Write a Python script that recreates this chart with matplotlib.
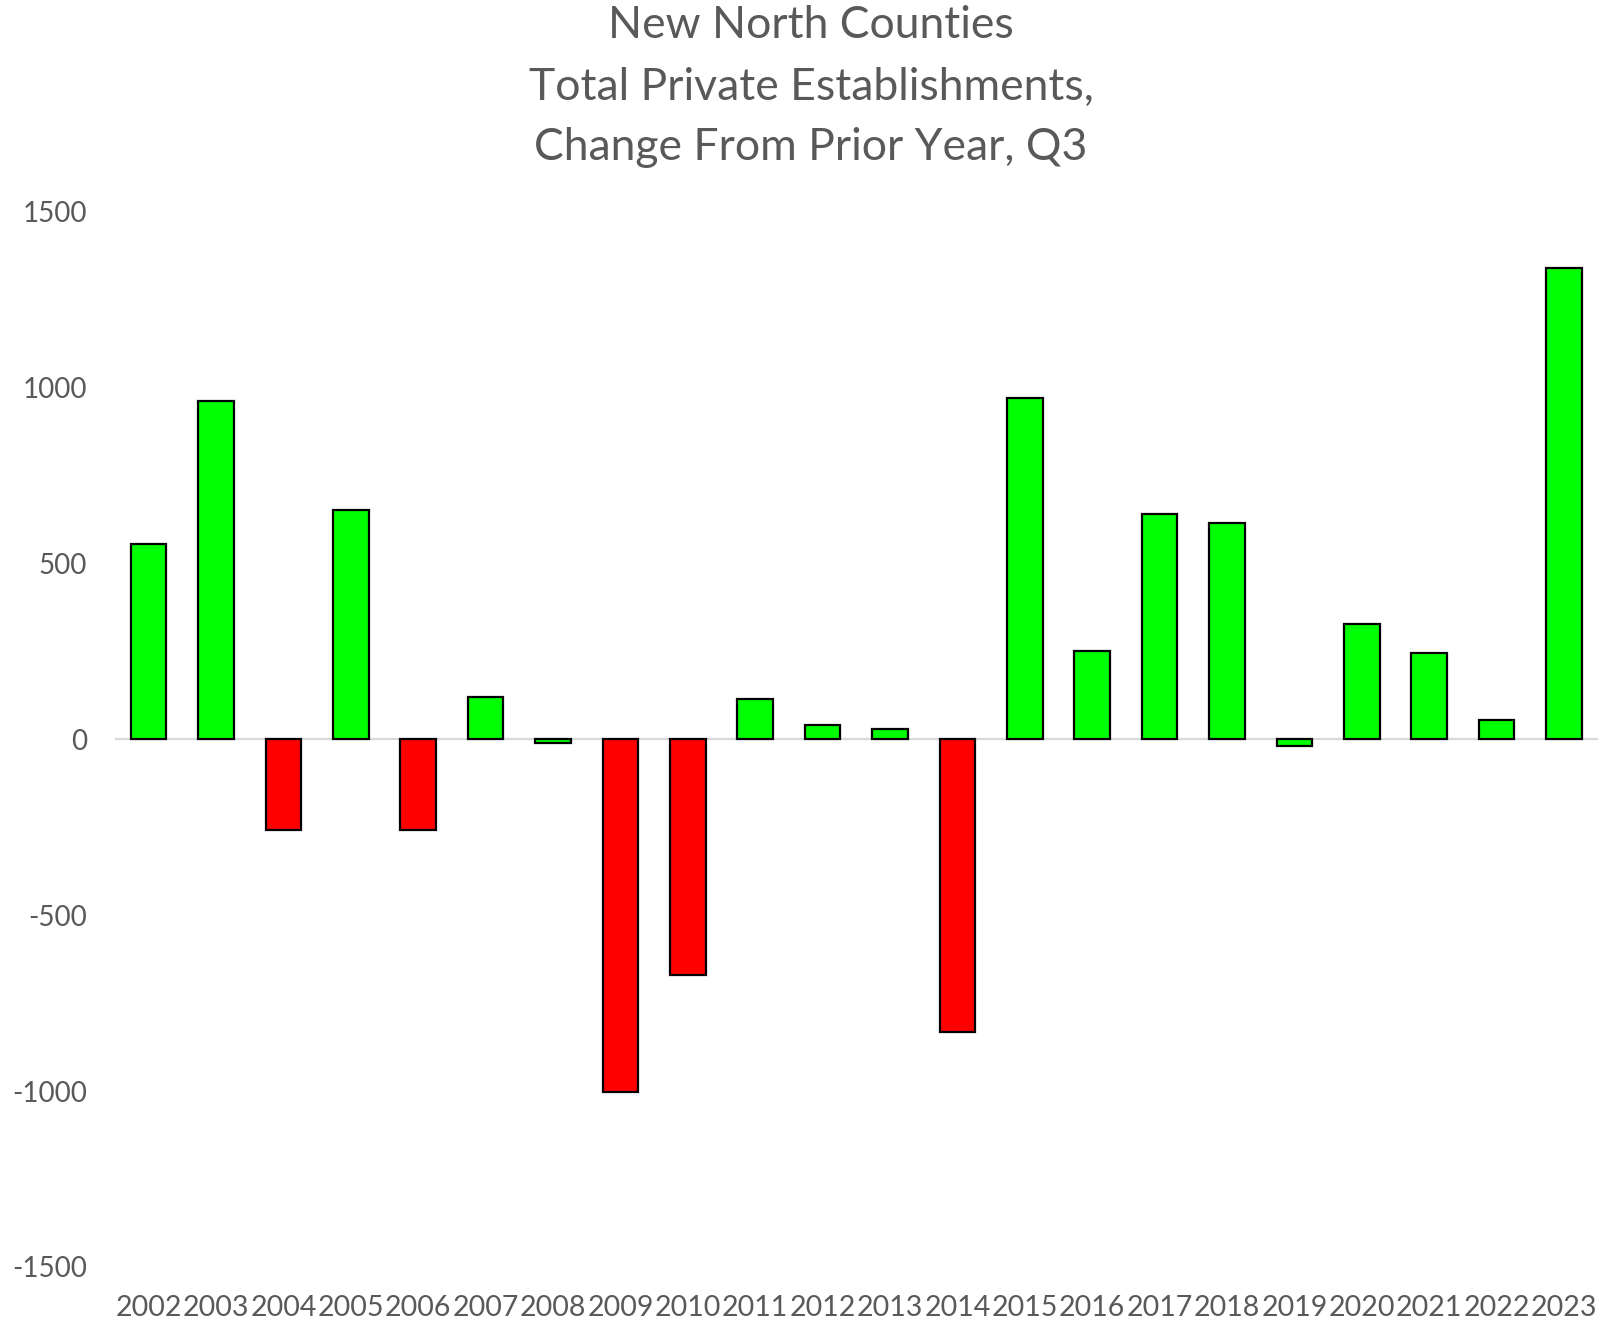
import matplotlib
matplotlib.use("Agg")
import matplotlib.pyplot as plt
import numpy as np

years = [str(y) for y in range(2002, 2024)]
changes = [556, 963, -259, 653, -259, 120, -10, -1004, -669, 114, 40, 28,
           -832, 969, 250, 640, 614, -19, 328, 245, 55, 1339]
bar_colors = ['#00FF00', '#00FF00', '#FF0000', '#00FF00', '#FF0000', '#00FF00',
              '#00FF00', '#FF0000', '#FF0000', '#00FF00', '#00FF00', '#00FF00',
              '#FF0000', '#00FF00', '#00FF00', '#00FF00', '#00FF00', '#00FF00',
              '#00FF00', '#00FF00', '#00FF00', '#00FF00']
title_lines = ["New North Counties", "Total Private Establishments,", "Change From Prior Year, Q3"]
yticks = [-1500, -1000, -500, 0, 500, 1000, 1500]

plt.rcParams['font.family'] = ['Lato', 'DejaVu Sans']
gray = '#595959'

fig = plt.figure(figsize=(16.03, 13.29), dpi=100)
ax = fig.add_axes([0.0717, 0.0467, 0.925, 0.794])

x = np.arange(len(years))
ax.bar(x, changes, width=0.53, color=bar_colors, edgecolor='black', linewidth=1.6, zorder=3)
ax.axhline(0, color='#D9D9D9', linewidth=1.6, zorder=2)

ax.set_ylim(-1500, 1500)
ax.set_xlim(-0.5, len(years) - 0.5)
ax.set_yticks(yticks)
ax.set_yticklabels([str(t) for t in yticks])
ax.set_xticks(x)
ax.set_xticklabels(years)
for s in ax.spines.values():
    s.set_visible(False)
ax.tick_params(axis='y', length=0, pad=20, labelsize=20, labelcolor=gray)
ax.tick_params(axis='x', length=0, pad=20, labelsize=20.5, labelcolor=gray)

ys = [1 - 25.6 / 1329, 1 - 87 / 1329, 1 - 148 / 1329]
for line, yy in zip(title_lines, ys):
    fig.text(0.506, yy, line, ha='center', va='center', fontsize=32, color=gray)

fig.savefig('out.png', dpi=100)
